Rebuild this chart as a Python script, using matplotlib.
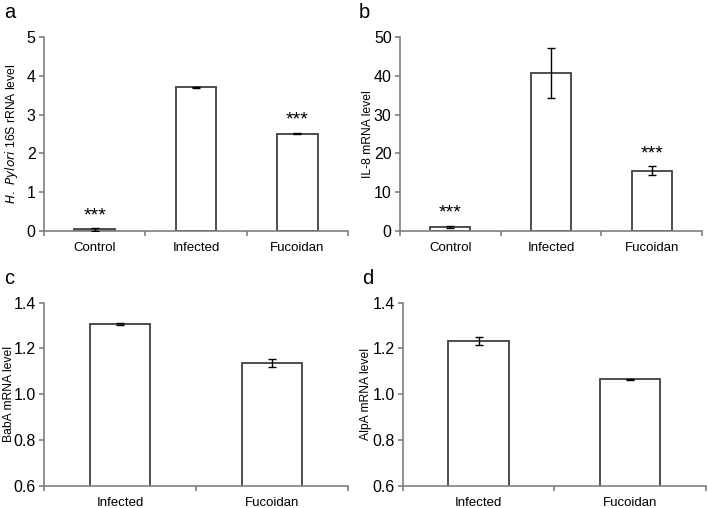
import matplotlib
matplotlib.use("Agg")
import matplotlib.pyplot as plt
import numpy as np

plt.rcParams['font.family'] = ['Liberation Sans', 'DejaVu Sans']

cats3 = ["Control", "Infected", "Fucoidan"]
cats2 = ["Infected", "Fucoidan"]

hp_vals = [0.04, 3.70, 2.51]
hp_err = [0.04, 0.02, 0.02]
hp_sig = ["***", "", "***"]

il8_vals = [1.0, 40.8, 15.5]
il8_err = [0.3, 6.5, 1.2]
il8_sig = ["***", "", "***"]

baba_vals = [1.306, 1.136]
baba_err = [0.004, 0.018]

alpa_vals = [1.233, 1.066]
alpa_err = [0.017, 0.002]

fig = plt.figure(figsize=(7.08, 5.08), dpi=100)

spine_col = "#7f7f7f"
edge_col = "#404040"


def panel(rect, cats, vals, errs, ylim, yticks, yfmt, ylabel, label_x, letter, letter_xy, sig=None):
    ax = fig.add_axes(rect)
    x = np.arange(len(cats))
    ax.bar(x, vals, width=0.4, color="white", edgecolor=edge_col, linewidth=1.3, zorder=2)
    ax.errorbar(x, vals, yerr=errs, fmt="none", ecolor="black", elinewidth=1.0,
                capsize=3, capthick=1.0, zorder=3)
    ax.set_xlim(-0.5, len(cats) - 0.5)
    ax.set_ylim(*ylim)
    ax.set_yticks(yticks)
    ax.set_yticklabels([yfmt.format(v) for v in yticks])
    ax.set_xticks(x)
    ax.set_xticklabels(cats)
    ax.set_xticks(np.arange(len(cats) + 1) - 0.5, minor=True)
    ax.tick_params(axis="x", which="major", length=0, pad=8, labelsize=9.5)
    ax.tick_params(axis="x", which="minor", length=3.5, color=spine_col, width=1.2, direction="out")
    ax.tick_params(axis="y", length=3.5, color=spine_col, width=1.2, direction="out", labelsize=11.5, pad=2.5)
    for s in ["top", "right"]:
        ax.spines[s].set_visible(False)
    for s in ["left", "bottom"]:
        ax.spines[s].set_color(spine_col)
        ax.spines[s].set_linewidth(1.2)
    ax.set_ylabel(ylabel, fontsize=8.7)
    ax.yaxis.set_label_coords(label_x, 0.5)
    if sig is not None:
        span = ylim[1] - ylim[0]
        for xi, v, e, s in zip(x, vals, errs, sig):
            if s:
                ax.text(xi, v + e + 0.02 * span, s, ha="center", va="bottom", fontsize=14)
    fig.text(letter_xy[0], letter_xy[1], letter, fontsize=14.5, ha="left", va="top")
    return ax


panel([0.0621, 0.5453, 0.4294, 0.3819], cats3, hp_vals, hp_err, (0, 5),
      [0, 1, 2, 3, 4, 5], "{:.0f}", r"$\it{H.\ Pylori}$ 16S rRNA level", -0.079,
      "a", (0.006, 0.995), sig=hp_sig)

panel([0.565, 0.5459, 0.4265, 0.3807], cats3, il8_vals, il8_err, (0, 50),
      [0, 10, 20, 30, 40, 50], "{:.0f}", "IL-8 mRNA level", -0.086,
      "b", (0.506, 0.995), sig=il8_sig)

panel([0.0621, 0.0439, 0.4294, 0.3602], cats2, baba_vals, baba_err, (0.6, 1.4),
      [0.6, 0.8, 1.0, 1.2, 1.4], "{:.1f}", "BabA mRNA level", -0.095,
      "c", (0.006, 0.47))

panel([0.5692, 0.0439, 0.4276, 0.3602], cats2, alpa_vals, alpa_err, (0.6, 1.4),
      [0.6, 0.8, 1.0, 1.2, 1.4], "{:.1f}", "AlpA mRNA level", -0.102,
      "d", (0.511, 0.47))

fig.savefig("out.png", dpi=100, facecolor="white")
